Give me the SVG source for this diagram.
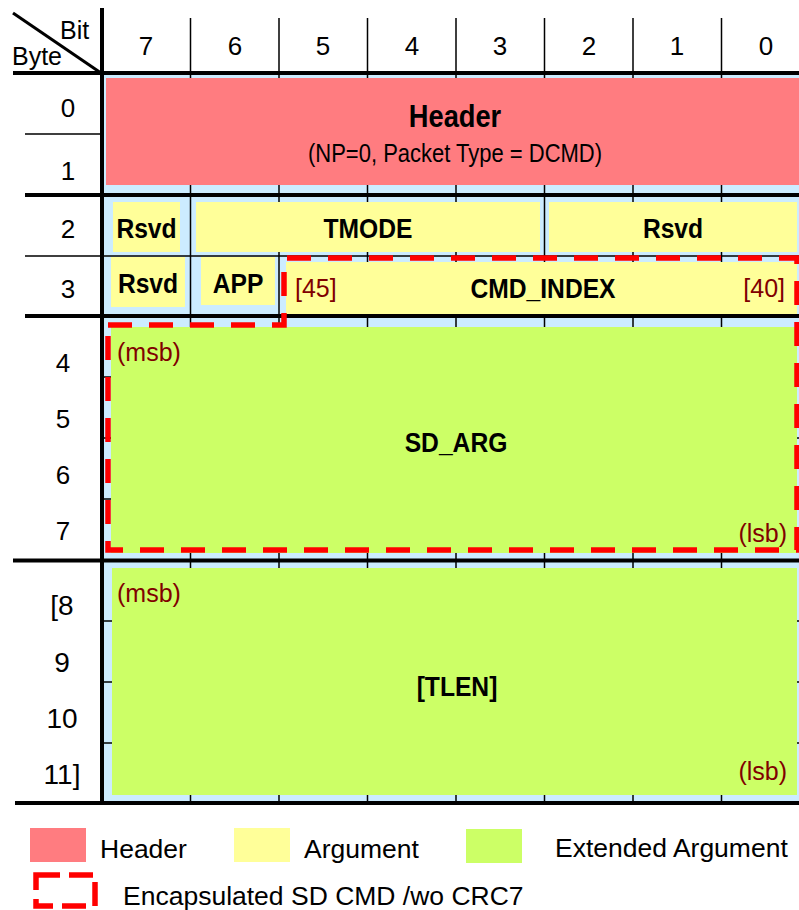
<svg xmlns="http://www.w3.org/2000/svg" width="799" height="910" viewBox="0 0 799 910">
<style>
text{font-family:"Liberation Sans",Arial,sans-serif;fill:#000}
.num{font-size:26px;text-anchor:middle}
.big{font-size:28px;text-anchor:middle}
.bold{font-size:28px;font-weight:bold;text-anchor:middle}
.red{font-size:25px;fill:#800000}
.leg{font-size:26.5px}
.thick{stroke:#000;stroke-width:4;fill:none}
.thin{stroke:#000;stroke-width:1.5;fill:none}
.hdr{fill:#FF7C80}
.arg{fill:#FFFF99}
.ext{fill:#CCFF66}
.dash{fill:none;stroke:#FF0000;stroke-width:5.5;stroke-dasharray:24 17}
</style>
<rect width="799" height="910" fill="#fff"/>
<rect x="104" y="75" width="695" height="726" fill="#CCECFF"/>
<g id="grid">
<path class="thin" d="M190.5 18V803M279 18V803M367.5 18V803M456 18V803M544.5 18V803M633 18V803M721.5 18V803"/>
<path class="thin" d="M25 134H101M25 256H799M102 377H799M102 438H799M102 499H799M102 621H799M102 682H799M102 743H799"/>
<path class="thick" d="M13 73H799M25 195H799M25 316H799M13 560.5H799M15 803H799M102 8V805"/>
<path stroke="#000" stroke-width="3" d="M13 13L101 73"/>
</g>
<g id="corner">
<text x="60" y="39" style="font-size:25px">Bit</text>
<text x="12" y="65" style="font-size:25px">Byte</text>
</g>
<g id="bits">
<text class="num" x="146" y="55">7</text>
<text class="num" x="235" y="55">6</text>
<text class="num" x="323" y="55">5</text>
<text class="num" x="412" y="55">4</text>
<text class="num" x="500" y="55">3</text>
<text class="num" x="589" y="55">2</text>
<text class="num" x="677" y="55">1</text>
<text class="num" x="766" y="55">0</text>
</g>
<g id="bytes">
<text class="num" x="68" y="117">0</text>
<text class="num" x="68" y="180">1</text>
<text class="num" x="68" y="238">2</text>
<text class="num" x="68" y="298">3</text>
<text class="num" x="63" y="372">4</text>
<text class="num" x="63" y="428">5</text>
<text class="num" x="63" y="484">6</text>
<text class="num" x="63" y="540">7</text>
<text class="big" x="62" y="615">[8</text>
<text class="big" x="62" y="672">9</text>
<text class="big" x="62" y="728">10</text>
<text class="big" x="62" y="784">11]</text>
</g>
<g id="header">
<rect class="hdr" x="106" y="78" width="693" height="107"/>
<text class="bold" transform="translate(455 127) scale(.88 1)" style="font-size:31px">Header</text>
<text transform="translate(455 162) scale(.88 1)" style="font-size:25px;text-anchor:middle">(NP=0, Packet Type = DCMD)</text>
</g>
<g id="rsvd2a">
<rect class="arg" x="113" y="202" width="67" height="50"/>
<text class="bold" transform="translate(146.5 238) scale(.88 1)">Rsvd</text>
</g>
<g id="tmode">
<rect class="arg" x="196" y="202" width="344" height="50"/>
<text class="bold" transform="translate(368 238) scale(.88 1)">TMODE</text>
</g>
<g id="rsvd2b">
<rect class="arg" x="549" y="202" width="248" height="50"/>
<text class="bold" transform="translate(673 238) scale(.88 1)">Rsvd</text>
</g>
<g id="rsvd3">
<rect class="arg" x="111" y="257" width="74" height="50"/>
<text class="bold" transform="translate(148 293) scale(.88 1)">Rsvd</text>
</g>
<g id="app">
<rect class="arg" x="201" y="257" width="74" height="48"/>
<text class="bold" transform="translate(238 293) scale(.88 1)">APP</text>
</g>
<g id="cmdindex">
<rect class="arg" x="286" y="262" width="511" height="52"/>
<text class="bold" transform="translate(543 298) scale(.88 1)">CMD_INDEX</text>
<text class="red" x="295" y="297">[45]</text>
<text class="red" x="785" y="297" text-anchor="end">[40]</text>
</g>
<g id="sdarg">
<rect class="ext" x="111" y="327" width="686" height="226"/>
<text class="bold" transform="translate(456 452) scale(.88 1)">SD_ARG</text>
<text class="red" x="117" y="361">(msb)</text>
<text class="red" x="787" y="542" text-anchor="end">(lsb)</text>
</g>
<g id="tlen">
<rect class="ext" x="112" y="568" width="685" height="227"/>
<text class="bold" transform="translate(457 696) scale(.88 1)">[TLEN]</text>
<text class="red" x="117" y="602">(msb)</text>
<text class="red" x="787" y="780" text-anchor="end">(lsb)</text>
</g>
<g id="encapsulated">
<path class="dash" d="M108 325H284V258H797V550H108Z"/>
</g>
<g id="legend">
<rect class="hdr" x="30" y="828" width="56" height="34"/>
<text class="leg" x="100" y="858">Header</text>
<rect class="arg" x="234" y="828" width="56" height="34"/>
<text class="leg" x="304" y="858">Argument</text>
<rect class="ext" x="466" y="829" width="56" height="34"/>
<text class="leg" x="555" y="857">Extended Argument</text>
<rect x="36" y="875" width="59" height="31" fill="none" stroke="#FF0000" stroke-width="5.5" stroke-dasharray="24 9"/>
<text class="leg" x="123" y="905">Encapsulated SD CMD /wo CRC7</text>
</g>
</svg>
